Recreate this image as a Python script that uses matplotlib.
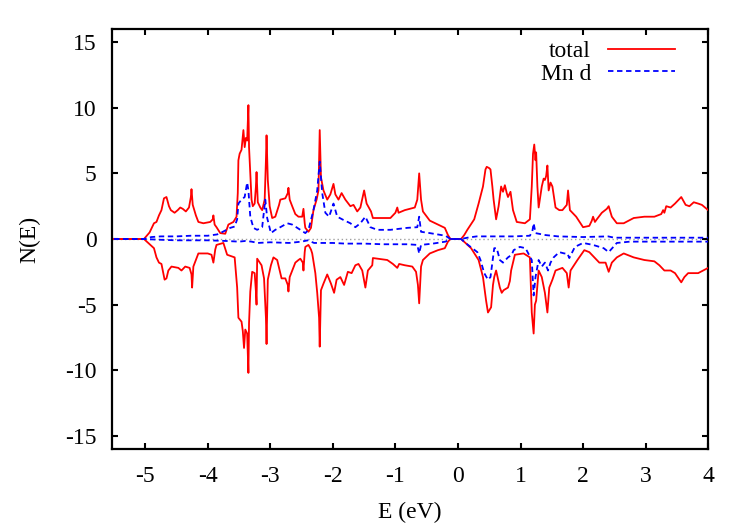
import numpy as np
import matplotlib
matplotlib.use("Agg")
import matplotlib.pyplot as plt

# ---- data ----
total_up_E = [-5.5, -5.02, -4.93, -4.86, -4.82, -4.78, -4.74, -4.70, -4.66, -4.62, -4.59, -4.53, -4.48, -4.44,
              -4.40, -4.35, -4.30, -4.27, -4.26, -4.24, -4.19, -4.15, -4.07, -3.96, -3.92, -3.91, -3.89, -3.86,
              -3.80, -3.72, -3.67, -3.59, -3.54, -3.52, -3.51, -3.49, -3.46, -3.43, -3.41, -3.39, -3.37, -3.35,
              -3.34, -3.32, -3.30, -3.28, -3.25, -3.23, -3.22, -3.20, -3.16, -3.13, -3.09, -3.07, -3.06, -3.04,
              -3.01, -2.97, -2.92, -2.86, -2.84, -2.76, -2.72, -2.71, -2.69, -2.65, -2.60, -2.55, -2.49, -2.47,
              -2.45, -2.44, -2.39, -2.35, -2.31, -2.26, -2.23, -2.21, -2.19, -2.15, -2.09, -2.04, -1.99, -1.96,
              -1.91, -1.86, -1.80, -1.72, -1.67, -1.61, -1.56, -1.50, -1.46, -1.39, -1.36, -1.08, -1.00, -0.97,
              -0.95, -0.85, -0.69, -0.65, -0.62, -0.59, -0.56, -0.45, -0.32, -0.21, -0.16, -0.12, 0.05,
              0.10, 0.15, 0.26, 0.33, 0.40, 0.44, 0.46, 0.50, 0.52, 0.55, 0.57, 0.61, 0.65, 0.69, 0.72, 0.75,
              0.78, 0.80, 0.84, 0.88, 0.94, 1.07, 1.15, 1.18, 1.20, 1.22, 1.24, 1.25, 1.27, 1.29, 1.34, 1.37,
              1.39, 1.41, 1.43, 1.45, 1.48, 1.51, 1.56, 1.62, 1.67, 1.74, 1.76, 1.79, 1.89, 2.00, 2.10, 2.14,
              2.16, 2.19, 2.22, 2.30, 2.38, 2.41, 2.46, 2.54, 2.65, 2.81, 2.98, 3.14, 3.25, 3.28, 3.30, 3.33,
              3.40, 3.47, 3.53, 3.57, 3.64, 3.70, 3.77, 3.84, 3.90, 4.0]
total_up_N = [0, 0, 0.5, 1.2, 1.3, 1.8, 2.2, 3.1, 3.2, 2.5, 2.2, 2.0, 2.2, 2.4,
              2.3, 2.1, 2.4, 3.2, 3.8, 2.6, 1.8, 1.3, 1.2, 1.3, 1.5, 1.8, 1.1, 0.9,
              0.45, 0.4, 1.1, 1.3, 1.7, 3.5, 6.0, 6.5, 6.8, 8.3, 7.0, 7.7, 7.5, 10.2,
              7.0, 5.0, 3.0, 2.5, 2.7, 4.0, 5.1, 2.8, 2.4, 2.2, 3.0, 6.0, 7.9, 4.5,
              2.5, 1.6, 1.7, 2.6, 3.0, 3.1, 3.5, 3.9, 3.0, 2.5, 1.9, 1.7, 1.7, 2.3,
              1.2, 0.85, 0.55, 0.85, 2.2, 3.0, 3.7, 8.3, 4.7, 3.7, 3.0, 3.4, 4.2, 3.4,
              3.0, 3.5, 3.0, 2.5, 2.6, 2.1, 2.4, 3.7, 2.7, 2.1, 1.6, 1.6, 2.0, 2.4,
              2.0, 2.2, 2.4, 3.0, 5.0, 3.0, 2.1, 1.4, 1.1, 0.85, 0.3, 0.0, 0.0,
              0.3, 0.7, 1.5, 2.7, 4.0, 5.3, 5.5, 5.4, 5.3, 4.0, 3.0, 1.5, 2.5, 4.0, 3.6, 4.1,
              3.5, 3.2, 3.6, 2.2, 1.3, 1.2, 1.5, 4.0, 6.5, 7.2, 6.0, 6.6, 4.0, 2.4, 4.0, 4.6,
              4.5, 4.8, 5.6, 3.7, 4.3, 4.0, 2.4, 2.2, 2.2, 2.6, 3.7, 2.2, 1.7, 0.9, 1.0, 1.4,
              1.7, 1.3, 1.5, 2.0, 2.3, 2.5, 1.7, 1.2, 1.2, 1.6, 1.7, 1.7, 1.9, 2.2, 2.0, 2.5,
              2.4, 2.7, 3.0, 3.2, 2.6, 2.5, 2.8, 2.7, 2.6, 2.2]

total_dn_E = [-5.5, -5.02, -4.93, -4.86, -4.82, -4.78, -4.74, -4.71, -4.69, -4.66, -4.63, -4.58, -4.47, -4.42,
              -4.36, -4.29, -4.26, -4.25, -4.23, -4.15, -4.00, -3.94, -3.91, -3.88, -3.86, -3.75, -3.69, -3.57,
              -3.53, -3.51, -3.46, -3.44, -3.42, -3.40, -3.37, -3.35, -3.34, -3.32, -3.29, -3.25, -3.23, -3.22,
              -3.21, -3.14, -3.10, -3.07, -3.06, -3.04, -2.99, -2.95, -2.89, -2.84, -2.82, -2.76, -2.72, -2.71,
              -2.69, -2.60, -2.55, -2.52, -2.48, -2.47, -2.45, -2.44, -2.39, -2.35, -2.33, -2.28, -2.25, -2.22,
              -2.21, -2.19, -2.15, -2.09, -2.03, -1.98, -1.94, -1.88, -1.82, -1.76, -1.70, -1.64, -1.59, -1.53,
              -1.48, -1.44, -1.37, -1.36, -1.13, -1.04, -0.97, -0.94, -0.85, -0.73, -0.67, -0.64, -0.62, -0.60,
              -0.59, -0.56, -0.45, -0.32, -0.21, -0.16, -0.12, 0.05,
              0.12, 0.21, 0.33, 0.40, 0.45, 0.48, 0.53, 0.56, 0.58, 0.61, 0.67, 0.70, 0.73, 0.80, 0.83, 0.85,
              0.91, 1.05, 1.15, 1.18, 1.21, 1.23, 1.25, 1.29, 1.34, 1.39, 1.43, 1.46, 1.51, 1.56, 1.67, 1.74,
              1.77, 1.80, 1.91, 2.02, 2.10, 2.18, 2.26, 2.36, 2.41, 2.46, 2.54, 2.65, 2.81, 2.98, 3.14, 3.22,
              3.30, 3.40, 3.47, 3.57, 3.62, 3.68, 3.84, 3.92, 4.0]
total_dn_N = [0, 0, -0.4, -0.7, -1.4, -1.8, -1.9, -2.6, -3.1, -3.0, -2.4, -2.1, -2.2, -2.4,
              -2.1, -2.2, -2.7, -3.7, -2.1, -1.1, -1.1, -1.2, -1.8, -0.8, -0.45, -0.3, -1.2, -1.4,
              -3.7, -6.0, -6.3, -7.0, -8.3, -6.9, -7.2, -10.2, -6.4, -4.0, -2.5, -2.6, -4.0, -5.0,
              -1.5, -2.0, -3.0, -6.0, -8.0, -3.1, -2.0, -1.4, -1.6, -2.6, -3.0, -3.0, -3.5, -4.0,
              -2.9, -1.8, -1.6, -1.5, -1.8, -2.4, -1.0, -0.6, -0.45, -0.8, -1.1, -2.6, -4.1, -6.0,
              -8.2, -3.9, -3.4, -2.7, -3.4, -4.1, -3.1, -2.9, -3.5, -2.5, -2.6, -2.0, -1.9, -2.4,
              -3.7, -2.4, -2.0, -1.45, -1.6, -1.9, -2.2, -1.9, -2.0, -2.1, -2.5, -3.5, -4.9, -3.0,
              -2.1, -1.6, -1.1, -0.85, -0.7, -0.2, 0.0, 0.0,
              -0.3, -0.7, -1.6, -2.9, -4.7, -5.6, -5.2, -3.5, -2.9, -2.4, -3.7, -4.1, -3.9, -3.7, -3.2, -2.4,
              -1.2, -1.1, -1.4, -5.6, -7.2, -5.0, -4.7, -2.4, -2.9, -4.1, -5.6, -3.7, -3.1, -2.4, -2.2, -2.6,
              -3.7, -2.4, -1.6, -0.85, -1.0, -1.4, -1.8, -1.8, -2.5, -1.8, -1.4, -1.1, -1.4, -1.6, -1.7, -2.0,
              -2.4, -2.4, -2.6, -3.3, -2.9, -2.6, -2.6, -2.4, -2.2]

mnd_up_E = [-5.5, -5.02, -4.90, -4.75, -4.50, -4.27, -4.00, -3.85, -3.80, -3.64, -3.57, -3.53, -3.51, -3.46,
            -3.41, -3.37, -3.35, -3.32, -3.27, -3.21, -3.13, -3.08, -3.05, -2.99, -2.92, -2.84, -2.73, -2.65,
            -2.52, -2.44, -2.39, -2.31, -2.25, -2.21, -2.17, -2.12, -2.06, -1.99, -1.93, -1.83, -1.72, -1.64,
            -1.56, -1.48, -1.40, -1.29, -1.08, -0.81, -0.65, -0.62, -0.59, -0.45, -0.20, -0.12, 0.05,
            0.15, 0.30, 0.60, 0.90, 1.15, 1.19, 1.21, 1.24, 1.40, 1.60, 2.00, 2.40, 2.50, 3.00, 4.00]
mnd_up_N = [0, 0, 0.15, 0.2, 0.2, 0.25, 0.25, 0.35, 0.45, 0.85, 0.95, 1.5, 2.7, 3.0,
            3.2, 4.3, 3.7, 1.7, 0.85, 0.7, 0.9, 3.0, 1.6, 0.45, 0.7, 0.9, 1.2, 1.1,
            0.7, 0.45, 0.7, 2.2, 3.7, 5.9, 3.5, 2.0, 1.7, 2.7, 1.7, 1.45, 1.2, 0.9,
            1.2, 1.7, 0.9, 0.7, 0.7, 0.85, 0.9, 1.7, 0.55, 0.45, 0.25, 0.0, 0.0,
            0.1, 0.2, 0.2, 0.2, 0.25, 0.6, 1.2, 0.45, 0.3, 0.2, 0.15, 0.2, 0.1, 0.1, 0.1]

mnd_dn_E = [-5.5, -5.02, -4.80, -4.50, -4.00, -3.70, -3.50, -3.40, -3.30, -3.20, -3.00, -2.70, -2.50, -2.40,
            -2.30, -2.00, -1.80, -1.50, -1.20, -0.80, -0.65, -0.62, -0.59, -0.40, -0.20, -0.12, 0.05,
            0.12, 0.31, 0.36, 0.42, 0.48, 0.52, 0.55, 0.58, 0.62, 0.67, 0.72, 0.80, 0.86, 0.89, 0.99, 1.08,
            1.18, 1.21, 1.24, 1.29, 1.34, 1.39, 1.44, 1.48, 1.53, 1.62, 1.70, 1.75, 1.78, 1.87, 2.00, 2.16,
            2.33, 2.41, 2.54, 2.75, 3.25, 4.00]
mnd_dn_N = [0, 0, -0.05, -0.1, -0.1, -0.15, -0.2, -0.15, -0.2, -0.3, -0.25, -0.3, -0.2, -0.1,
            -0.3, -0.3, -0.35, -0.35, -0.4, -0.4, -0.45, -1.1, -0.45, -0.35, -0.2, 0.0, 0.0,
            -0.3, -1.0, -1.6, -2.6, -3.1, -2.9, -1.8, -0.7, -0.7, -1.6, -1.8, -1.4, -1.2, -0.85, -0.6, -0.7,
            -1.6, -4.3, -2.9, -1.6, -2.1, -1.8, -2.4, -1.8, -1.4, -1.0, -1.1, -1.1, -1.45, -0.6, -0.3, -0.45,
            -0.7, -1.0, -0.3, -0.2, -0.2, -0.2]

x_ticks = [-5, -4, -3, -2, -1, 0, 1, 2, 3, 4]
y_ticks = [-15, -10, -5, 0, 5, 10, 15]

# ---- figure ----
plt.rcParams['font.family'] = ['Liberation Serif', 'DejaVu Serif']
FS = 17

fig = plt.figure(figsize=(7.47, 5.23), dpi=100)
ax = fig.add_axes([0.150, 0.1415, 0.798, 0.803])

ax.axhline(0, color='#a0a0a0', linestyle=(0, (1, 2)), lw=1.0, zorder=1)

ax.plot(total_up_E, total_up_N, color='#ff0000', lw=1.3, label='total', zorder=3)
ax.plot(total_dn_E, total_dn_N, color='#ff0000', lw=1.3, zorder=3)
ax.plot(mnd_up_E, mnd_up_N, color='#0000ff', lw=1.3, linestyle=(0, (3, 2)), label='Mn d', zorder=4)
ax.plot(mnd_dn_E, mnd_dn_N, color='#0000ff', lw=1.3, linestyle=(0, (3, 2)), zorder=4)

ax.set_xlim(-5.53, 4.0)
ax.set_ylim(-16, 16)
ax.set_xticks(x_ticks)
ax.set_yticks(y_ticks)
ax.set_xticklabels([str(t) for t in x_ticks])
ax.set_yticklabels([str(t) for t in y_ticks])
ax.tick_params(direction='in', length=4, width=1.5, top=True, right=True, labelsize=FS)
ax.tick_params(axis='x', pad=12)
ax.tick_params(axis='y', pad=11)
for s in ax.spines.values():
    s.set_linewidth(1.6)

ax.set_xlabel('E (eV)', fontsize=FS, labelpad=11)
ax.set_ylabel('N(E)', fontsize=FS, labelpad=18)

leg = ax.legend(loc='upper right', frameon=False, markerfirst=False, fontsize=FS,
                handlelength=2.85, handletextpad=0.7, labelspacing=0.05,
                borderaxespad=0.3, bbox_to_anchor=(0.972, 1.012))

fig.savefig('out.png', dpi=100)
